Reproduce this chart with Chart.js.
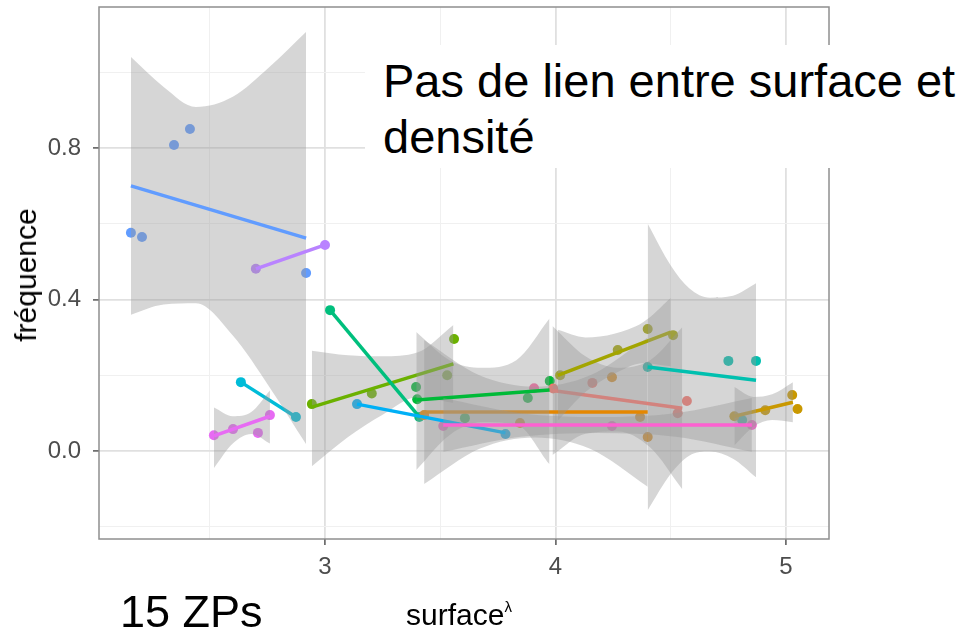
<!DOCTYPE html>
<html>
<head>
<meta charset="utf-8">
<script src="https://cdn.jsdelivr.net/npm/chart.js@4.4.0/dist/chart.umd.min.js"></script>
<style>
  body { margin: 0; background: #fff; }
  #wrap { position: relative; width: 973px; height: 630px; font-family: "Liberation Sans", Arial, sans-serif; overflow: hidden; }
  #chart { position: absolute; left: 0; top: 0; }
  .note { position: absolute; left: 365px; top: 45px; width: 608px; height: 123px; background: #fff;
          box-sizing: border-box; padding: 8px 0 0 18px; font-size: 47px; line-height: 56px; color: #000; }
  .zps { position: absolute; left: 120px; top: 589px; font-size: 45px; line-height: 45px; color: #000; white-space: nowrap; }
  .xtitle { position: absolute; left: 406px; top: 600px; font-size: 30px; line-height: 30px; color: #000; white-space: nowrap; }
  .xtitle span { font-size: 15px; position: relative; top: -13px; }
  .ytitle { position: absolute; left: 26px; top: 275px; font-size: 30px; line-height: 30px; color: #000; white-space: nowrap;
            transform: translate(-50%, -50%) rotate(-90deg); }
</style>
</head>
<body>
<div id="wrap">
  <canvas id="chart" width="973" height="630"></canvas>
  <div class="note">Pas de lien entre surface et<br>densité</div>
  <div class="zps">15 ZPs</div>
  <div class="xtitle">surface<span>λ</span></div>
  <div class="ytitle">fréquence</div>
</div>
<script>
// one colour per ZP (ggplot hue palette, 15 groups)
const groupColors = ["#F8766D", "#E58700", "#C99800", "#A3A500", "#6BB100", "#00BA38", "#00BF7D", "#00C0AF",
                     "#00BCD8", "#00B0F6", "#619CFF", "#B983FF", "#E76BF3", "#FD61D1", "#FF67A4"];

// observed points (surface^lambda, fréquence)
const ptX = [
  [3.99, 4.16, 4.53, 4.57],
  [3.43, 3.846, 4.245, 4.367, 4.40],
  [4.776, 4.91, 5.027, 5.05],
  [4.02, 4.27, 4.40, 4.51],
  [2.943, 3.203, 3.53, 3.56],
  [3.395, 3.40, 3.607, 3.88, 3.975],
  [3.022, 3.409],
  [4.40, 4.75, 4.87, 4.81],
  [2.635, 2.874],
  [3.139, 3.783],
  [2.158, 2.206, 2.345, 2.414, 2.918],
  [2.70, 3.00],
  [2.518, 2.601, 2.709, 2.761],
  [3.513, 4.245, 4.852],
  [3.907]
];
const ptY = [
  [0.165, 0.180, 0.100, 0.132],
  [0.095, 0.074, 0.195, 0.090, 0.037],
  [0.092, 0.108, 0.148, 0.111],
  [0.200, 0.267, 0.322, 0.306],
  [0.124, 0.152, 0.200, 0.296],
  [0.169, 0.137, 0.087, 0.140, 0.185],
  [0.372, 0.090],
  [0.222, 0.238, 0.238, 0.082],
  [0.182, 0.090],
  [0.124, 0.045],
  [0.576, 0.565, 0.808, 0.850, 0.470],
  [0.481, 0.544],
  [0.042, 0.058, 0.048, 0.095],
  [0.066, 0.066, 0.069],
  [0.166]
];

// fitted lines: start / end
const lineX = [
  [3.987, 4.55], [3.43, 4.40], [4.776, 5.03], [4.01, 4.50], [2.943, 3.557], [3.396, 3.974], [3.022, 3.409],
  [4.40, 4.87], [2.635, 2.874], [3.139, 3.783], [2.158, 2.918], [2.70, 3.00], [2.518, 2.761], [3.513, 4.852], null
];
const lineY = [
  [0.160, 0.113], [0.103, 0.103], [0.092, 0.129], [0.200, 0.314], [0.116, 0.230], [0.135, 0.161], [0.372, 0.090],
  [0.222, 0.187], [0.182, 0.090], [0.124, 0.048], [0.700, 0.562], [0.481, 0.544], [0.040, 0.092], [0.069, 0.069], null
];

// confidence ribbons
const bandX = [
  [3.987, 4.13, 4.27, 4.41, 4.55],
  [3.43, 3.67, 3.91, 4.15, 4.40],
  [4.776, 4.86, 4.94, 5.03],
  [4.01, 4.13, 4.255, 4.38, 4.50],
  [2.943, 3.10, 3.25, 3.40, 3.557],
  [3.396, 3.54, 3.68, 3.83, 3.974],
  null,
  [4.40, 4.50, 4.58, 4.67, 4.77, 4.87],
  null,
  null,
  [2.158, 2.30, 2.44, 2.60, 2.76, 2.918],
  null,
  [2.518, 2.60, 2.68, 2.761],
  [3.513, 3.85, 4.18, 4.52, 4.852],
  null
];
const bandHi = [
  [0.33, 0.25, 0.22, 0.24, 0.327],
  [0.293, 0.20, 0.17, 0.20, 0.30],
  [0.169, 0.143, 0.15, 0.182],
  [0.32, 0.30, 0.31, 0.34, 0.404],
  [0.265, 0.253, 0.25, 0.26, 0.333],
  [0.314, 0.24, 0.22, 0.24, 0.35],
  null,
  [0.60, 0.49, 0.43, 0.405, 0.41, 0.443],
  null,
  null,
  [1.04, 0.961, 0.908, 0.935, 1.014, 1.106],
  null,
  [0.115, 0.092, 0.103, 0.16],
  [0.14, 0.10, 0.09, 0.10, 0.14],
  null
];
const bandLo = [
  [-0.01, 0.046, 0.052, 0.01, -0.101],
  [-0.087, 0.006, 0.036, 0.006, -0.094],
  [0.015, 0.065, 0.082, 0.076],
  [0.08, 0.156, 0.204, 0.232, 0.224],
  [-0.04, 0.037, 0.096, 0.142, 0.127],
  [-0.05, 0.042, 0.076, 0.07, -0.035],
  null,
  [-0.156, -0.06, -0.012, -0.001, -0.02, -0.069],
  null,
  null,
  [0.36, 0.387, 0.39, 0.305, 0.168, 0.018],
  null,
  [-0.045, 0.02, 0.045, 0.02],
  [-0.002, 0.038, 0.048, 0.038, -0.002],
  null
];

const xTicks = [2.5, 3, 3.5, 4, 4.5, 5];
const xTickLabels = ["", "3", "", "4", "", "5"];
const yTicks = [-0.2, 0, 0.2, 0.4, 0.6, 0.8, 1.0];
const yTickLabels = ["", "0.0", "", "0.4", "", "0.8", ""];

const bandFill = "rgba(153,153,153,0.4)";
const none = "rgba(0,0,0,0)";

const datasets = [];
groupColors.forEach((col, g) => {
  datasets.push({
    data: ptX[g].map((x, i) => ({ x: x, y: ptY[g][i] })),
    showLine: false, pointRadius: 5, pointHoverRadius: 5, pointBorderWidth: 0,
    pointBackgroundColor: col, borderColor: col, order: 1000
  });
});
groupColors.forEach((col, g) => {
  const base = 500 - g * 3;
  if (bandX[g]) {
    datasets.push({
      data: bandX[g].map((x, i) => ({ x: x, y: bandLo[g][i] })),
      borderWidth: 0, borderColor: none, pointRadius: 0, fill: false,
      cubicInterpolationMode: "monotone", order: base
    });
    datasets.push({
      data: bandX[g].map((x, i) => ({ x: x, y: bandHi[g][i] })),
      borderWidth: 0, borderColor: none, pointRadius: 0, fill: "-1", backgroundColor: bandFill,
      cubicInterpolationMode: "monotone", order: base - 1
    });
  }
  if (lineX[g]) {
    datasets.push({
      data: lineX[g].map((x, i) => ({ x: x, y: lineY[g][i] })),
      borderColor: col, borderWidth: 3.5, pointRadius: 0, fill: false, order: base - 2
    });
  }
});

const isMajorX = v => xTickLabels[xTicks.indexOf(v)] !== "";
const isMajorY = v => yTickLabels[yTicks.indexOf(v)] !== "";

// panel border drawn on top, like ggplot's panel.border
const panelBorder = {
  id: "panelBorder",
  afterDatasetsDraw(chart) {
    const a = chart.chartArea, c = chart.ctx;
    c.save();
    c.strokeStyle = "#8f8f8f";
    c.lineWidth = 1.5;
    c.strokeRect(a.left, a.top, a.right - a.left, a.bottom - a.top);
    c.restore();
  }
};

Chart.defaults.font.family = '"Liberation Sans", Arial, sans-serif';

new Chart(document.getElementById("chart"), {
  type: "line",
  data: { datasets: datasets },
  options: {
    responsive: false,
    animation: false,
    layout: { padding: { top: 7, right: 144, left: 0, bottom: 0 } },
    plugins: { legend: { display: false }, tooltip: { enabled: false } },
    scales: {
      x: {
        type: "linear", min: 2.0195, max: 5.1866,
        afterBuildTicks: s => { s.ticks = xTicks.map(v => ({ value: v })); },
        afterFit: s => { s.height = 91; s.paddingLeft = 0; s.paddingRight = 0; },
        border: { display: false },
        grid: {
          color: c => isMajorX(c.tick.value) ? "#e0e0e0" : "#f0f0f0",
          lineWidth: c => isMajorX(c.tick.value) ? 1.8 : 1,
          tickColor: c => isMajorX(c.tick.value) ? "#555" : none,
          tickWidth: 1.5, tickLength: 6
        },
        ticks: {
          autoSkip: false, maxRotation: 0, padding: 8, color: "#4d4d4d", font: { size: 24 },
          callback: (v, i) => xTickLabels[i]
        }
      },
      y: {
        type: "linear", min: -0.232, max: 1.172,
        afterBuildTicks: s => { s.ticks = yTicks.map(v => ({ value: v })); },
        afterFit: s => { s.width = 99; s.paddingTop = 0; s.paddingBottom = 0; },
        border: { display: false },
        grid: {
          color: c => isMajorY(c.tick.value) ? "#e0e0e0" : "#f0f0f0",
          lineWidth: c => isMajorY(c.tick.value) ? 1.8 : 1,
          tickColor: c => isMajorY(c.tick.value) ? "#555" : none,
          tickWidth: 1.5, tickLength: 6
        },
        ticks: {
          autoSkip: false, padding: 12, color: "#4d4d4d", font: { size: 24 },
          callback: (v, i) => yTickLabels[i]
        }
      }
    }
  },
  plugins: [panelBorder]
});
</script>
</body>
</html>
